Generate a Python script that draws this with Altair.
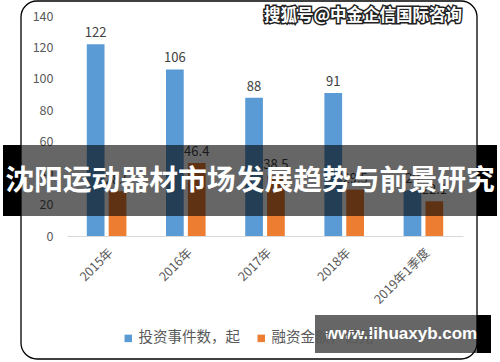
import altair as alt
import pandas as pd

years = ["2015年", "2016年", "2017年", "2018年", "2019年1季度"]
events = [122, 106, 88, 91, 29]
amounts = [28.5, 46.4, 38.5, 29.5, 22.1]
series = ["投资事件数，起", "融资金额，亿元"]
colors = ["#5B9BD5", "#ED7D31"]
y_ticks = [0, 20, 40, 60, 80, 100, 120, 140]

banner_title = "沈阳运动器材市场发展趋势与前景研究"
top_mark = "搜狐号@中金企信国际咨询"
bottom_mark = "www.lihuaxyb.com"

FONT = "Noto Sans CJK SC"

rows = []
for y, e, a in zip(years, events, amounts):
    rows.append({"year": y, "series": series[0], "value": e, "label": f"{e:g}"})
    rows.append({"year": y, "series": series[1], "value": a, "label": f"{a:g}"})
df = pd.DataFrame(rows)

one = alt.Data(values=[{"k": 1}])

x_enc = alt.X("year:N", sort=years,
              scale=alt.Scale(paddingInner=0.5, paddingOuter=0.25),
              axis=alt.Axis(title=None, labelAngle=-45, ticks=False, tickSize=0,
                            domainColor="#D9D9D9", domainWidth=1,
                            labelColor="#595959", labelFontSize=12.5,
                            labelPadding=10, labelOverlap=False))
xo_enc = alt.XOffset("series:N", sort=series,
                     scale=alt.Scale(paddingInner=0.19, paddingOuter=0))
y_enc = alt.Y("value:Q", scale=alt.Scale(domain=[0, 140], nice=False),
              axis=alt.Axis(title=None, values=y_ticks, domain=False, ticks=False,
                            tickSize=0, grid=False, labelColor="#595959",
                            labelFontSize=12.5, labelPadding=14,
                            labelOverlap=False, labelBound=False))

frame = alt.Chart(one).mark_rect(fill="transparent", stroke="#000000",
                                 strokeWidth=1.3, cornerRadius=16).encode(
    x=alt.value(-46), x2=alt.value(410), y=alt.value(-15), y2=alt.value(343))

bars = alt.Chart(df).mark_bar().encode(
    x=x_enc, xOffset=xo_enc, y=y_enc,
    color=alt.Color("series:N", sort=series,
                    scale=alt.Scale(domain=series, range=colors),
                    legend=alt.Legend(title=None, orient="none", legendX=54, legendY=315,
                                      direction="horizontal", symbolType="square",
                                      symbolSize=56, symbolStrokeWidth=0,
                                      labelFontSize=14.5, labelColor="#595959",
                                      columnPadding=14, labelOffset=3, padding=0,
                                      zindex=0)))

labels = alt.Chart(df).mark_text(baseline="bottom", dy=-4, fontSize=13,
                                 color="#404040").encode(
    x=x_enc, xOffset=xo_enc, y=y_enc, text="label:N")

ban_l = alt.Chart(one).mark_rect(color="#000000").encode(
    x=alt.value(-64), x2=alt.value(-46), y=alt.value(129), y2=alt.value(200))
ban_m = alt.Chart(one).mark_rect(color="#000000", opacity=0.6).encode(
    x=alt.value(-46), x2=alt.value(410), y=alt.value(129), y2=alt.value(200))
ban_r = alt.Chart(one).mark_rect(color="#000000").encode(
    x=alt.value(410), x2=alt.value(430), y=alt.value(129), y2=alt.value(200))
ban_t = alt.Chart(one).mark_text(fontSize=28.8, fontWeight="bold", color="white",
                                 align="center", baseline="middle").encode(
    x=alt.value(183), y=alt.value(165), text=alt.value(banner_title))

top_s = alt.Chart(one).mark_text(fontSize=16.5, fontWeight="bold", fill="white",
                                 stroke="#222222", strokeWidth=3,
                                 align="center", baseline="middle").encode(
    x=alt.value(296), y=alt.value(0), text=alt.value(top_mark))
top_f = alt.Chart(one).mark_text(fontSize=16.5, fontWeight="bold", fill="white",
                                 align="center", baseline="middle").encode(
    x=alt.value(296), y=alt.value(0), text=alt.value(top_mark))

bot_g = alt.Chart(one).mark_rect(color="#000000", opacity=0.6).encode(
    x=alt.value(248), x2=alt.value(410), y=alt.value(299), y2=alt.value(337))
bot_b = alt.Chart(one).mark_rect(color="#000000").encode(
    x=alt.value(410), x2=alt.value(424), y=alt.value(299), y2=alt.value(337))
bot_t = alt.Chart(one).mark_text(fontSize=17, fontWeight="bold", color="white",
                                 align="center", baseline="middle",
                                 font="Liberation Sans").encode(
    x=alt.value(334), y=alt.value(318), text=alt.value(bottom_mark))

chart = alt.layer(frame, bars, labels, ban_l, ban_m, ban_r, ban_t,
                  top_s, top_f, bot_g, bot_b, bot_t).properties(
    width=396, height=220,
    padding={"left": 67, "top": 16, "right": 37, "bottom": 126},
    autosize=alt.AutoSizeParams(type="none"),
    background="white",
).configure(font=FONT).configure_view(stroke=None)

chart.save("out.html", embed_options={"renderer": "svg", "actions": False})
